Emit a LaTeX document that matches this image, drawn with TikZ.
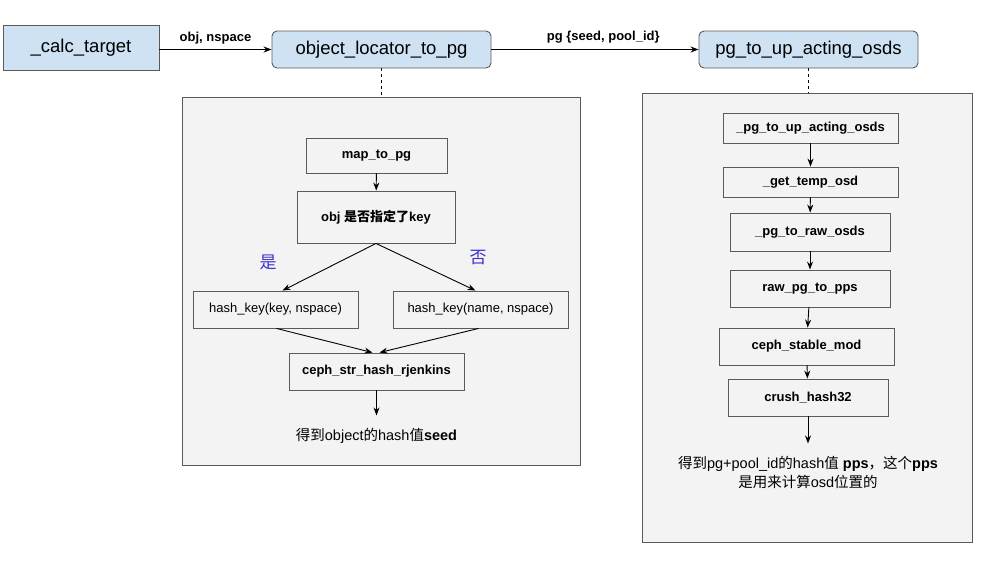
\documentclass[tikz,border=0pt]{standalone}
\usepackage{fontspec}
\setmainfont{Liberation Sans}
\newfontfamily\cjk{Noto Sans CJK SC}
\newcommand{\zh}[1]{{\cjk #1}}
\usetikzlibrary{shapes.geometric, arrows, arrows.meta}
\usetikzlibrary{positioning}
\definecolor{boxBlue}{HTML}{CFE2F3}
\definecolor{panelGray}{HTML}{F3F3F3}
\definecolor{edgeGray}{HTML}{5A5A5A}
\definecolor{branchBlue}{HTML}{3B30CC}
\tikzstyle{callBox} = [rectangle, draw=edgeGray, fill=boxBlue, inner sep=0pt, font=\fontsize{18.5}{21}\selectfont]
\tikzstyle{funcBox} = [callBox, rounded corners=5pt]
\tikzstyle{panel} = [rectangle, draw=edgeGray, fill=panelGray, inner sep=0pt]
\tikzstyle{fnBox} = [rectangle, draw=edgeGray, fill=panelGray, inner sep=0pt, font=\bfseries\fontsize{13}{15}\selectfont]
\tikzstyle{plainBox} = [fnBox, font=\fontsize{13}{15}\selectfont]
\tikzstyle{note} = [align=center, inner sep=12pt, font=\fontsize{14.5}{19}\selectfont]
\tikzstyle{branch} = [text=branchBlue, font=\cjk\fontsize{17}{19}\selectfont]
\tikzstyle{arrow} = [line width=0.9pt,-{Stealth[length=8pt, width=6pt]}]
\tikzstyle{link} = [line width=0.9pt, dashed, -]
\tikzstyle{argLabel} = [above, yshift=2pt, font=\bfseries\fontsize{13}{15}\selectfont]

\begin{document}
\begin{tikzpicture}[x=1pt, y=-1pt, line width=0.9pt]
\useasboundingbox (0,0) rectangle (1007,563);
% panels
\node (leftPanel) [panel, minimum width=398pt, minimum height=368pt] at (381,281) {};
\node (rightPanel) [panel, minimum width=330pt, minimum height=449pt] at (807,317.5) {};
% top row
\node (calcTarget) [callBox, minimum width=156pt, minimum height=45pt] at (81,47.5) {\_calc\_target};
\node (objLocator) [funcBox, minimum width=219pt, minimum height=37pt] at (381.5,49.5) {object\_locator\_to\_pg};
\node (pgToUp) [funcBox, minimum width=219pt, minimum height=37pt] at (808.5,49.5) {pg\_to\_up\_acting\_osds};
\draw [arrow] (calcTarget.east |- objLocator.west) -- node [argLabel] {obj, nspace} (objLocator.west);
\draw [arrow] (objLocator.east) -- node [argLabel, pos=0.54] {pg \{seed, pool\_id\}} (pgToUp.west);
\draw [link] (objLocator.south) -- (objLocator.south |- leftPanel.north);
\draw [link] (pgToUp.south) -- (pgToUp.south |- rightPanel.north);
% left panel
\node (mapToPg) [fnBox, minimum width=141pt, minimum height=35pt] at (376.5,155.5) {map\_to\_pg};
\node (keyCheck) [fnBox, minimum width=158pt, minimum height=52pt] at (376,217) {obj \zh{是否指定了}key};
\node (yesLabel) [branch] at (268,262) {是};
\node (noLabel) [branch] at (478,258) {否};
\node (hashKey) [plainBox, minimum width=165pt, minimum height=37pt] at (275.5,309.5) {hash\_key(key, nspace)};
\node (hashName) [plainBox, minimum width=175pt, minimum height=37pt] at (480.5,309.5) {hash\_key(name, nspace)};
\node (rjenkins) [fnBox, minimum width=175pt, minimum height=37pt] at (376.5,371.5) {ceph\_str\_hash\_rjenkins};
\node (seedText) [note, below=25pt of rjenkins] {\zh{得到}object\zh{的}hash\zh{值}\textbf{seed}};
\draw [arrow] (mapToPg) -- (keyCheck);
\draw [arrow] (keyCheck.south) -- ([xshift=7pt]hashKey.north);
\draw [arrow] (keyCheck.south) -- ([xshift=-5pt]hashName.north);
\draw [arrow] ([xshift=1pt]hashKey.south) -- ([xshift=-4pt]rjenkins.north);
\draw [arrow] ([xshift=-2pt]hashName.south) -- ([xshift=3pt]rjenkins.north);
\draw [arrow] (rjenkins) -- (seedText);
% right panel
\node (upActing) [fnBox, minimum width=175pt, minimum height=30pt] at (810.5,128) {\_pg\_to\_up\_acting\_osds};
\node (tempOsd) [fnBox, minimum width=175pt, minimum height=30pt] at (810.5,182) {\_get\_temp\_osd};
\node (rawOsds) [fnBox, minimum width=160pt, minimum height=38pt] at (810,232) {\_pg\_to\_raw\_osds};
\node (rawPps) [fnBox, minimum width=160pt, minimum height=37pt] at (810,288.5) {raw\_pg\_to\_pps};
\node (stableMod) [fnBox, minimum width=175pt, minimum height=37pt] at (806.5,346.5) {ceph\_stable\_mod};
\node (crushHash) [fnBox, minimum width=160pt, minimum height=37pt] at (808,397.5) {crush\_hash32};
\node (ppsText) [note, below=27pt of crushHash] {\zh{得到}pg+pool\_id\zh{的}hash\zh{值} \textbf{pps}\zh{，这个}\textbf{pps}\\\zh{是用来计算}osd\zh{位置的}};
\draw [arrow] (upActing) -- (tempOsd);
\draw [arrow] (tempOsd) -- (rawOsds);
\draw [arrow] (rawOsds) -- (rawPps);
\draw [arrow] (rawPps) -- (stableMod);
\draw [arrow] (stableMod) -- (crushHash);
\draw [arrow] (crushHash) -- (ppsText);
\end{tikzpicture}
\end{document}
